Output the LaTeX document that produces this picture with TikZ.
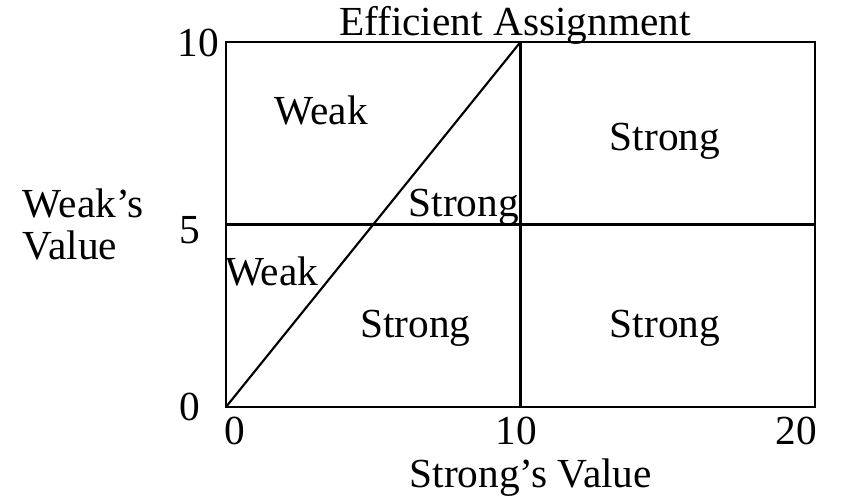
\documentclass[tikz,border=0pt]{standalone}
\usepackage{fontspec}
\setmainfont{Liberation Serif}
\usetikzlibrary{positioning}

\begin{document}
\begin{tikzpicture}[x=22.09pt, y=27.375pt, line width=1.6pt,
    lbl/.style={font=\fontsize{31}{36}\selectfont, inner sep=0pt, anchor=base}]
    \useasboundingbox (-7.674,-2.521) rectangle (21.256,11.151);

    % Define corners of the plot
    \coordinate (o) at (0, 0);
    \coordinate (tr) at (20, 10);
    \coordinate (mb) at (10, 0);
    \coordinate (mt) at (10, 10);
    \coordinate (ml) at (0, 5);
    \coordinate (mr) at (20, 5);

    % Draw frame and dividing lines
    \draw (o) rectangle (tr);
    \draw (mb) -- (mt);
    \draw (ml) -- (mr);
    \draw (o) -- (mt);

    % Axis labels
    \node[lbl] (title) at (9.81, 10.19) {Efficient Assignment};
    \node[lbl, anchor=base east] (y10) at (-0.2, 9.60) {10};
    \node[lbl] (y5) at (-1.22, 4.49) {5};
    \node[lbl] (y0) at (-1.22, -0.36) {0};
    \node[lbl, anchor=base west] (ylab1) at (-6.93, 5.18) {Weak's};
    \node[lbl, anchor=base west] (ylab2) at (-6.93, 4.03) {Value};
    \node[lbl] (x0) at (0.31, -1.04) {0};
    \node[lbl] (x10) at (9.86, -1.04) {10};
    \node[lbl] (x20) at (19.37, -1.04) {20};
    \node[lbl] (xlab) at (10.35, -2.22) {Strong's Value};

    % Region labels
    \node[lbl] (r1) at (3.23, 7.73) {Weak};
    \node[lbl] (r2) at (14.91, 7.04) {Strong};
    \node[lbl] (r3) at (8.07, 5.21) {Strong};
    \node[lbl] (r4) at (1.55, 3.34) {Weak};
    \node[lbl] (r5) at (6.43, 1.89) {Strong};
    \node[lbl] (r6) at (14.91, 1.89) {Strong};
\end{tikzpicture}
\end{document}
